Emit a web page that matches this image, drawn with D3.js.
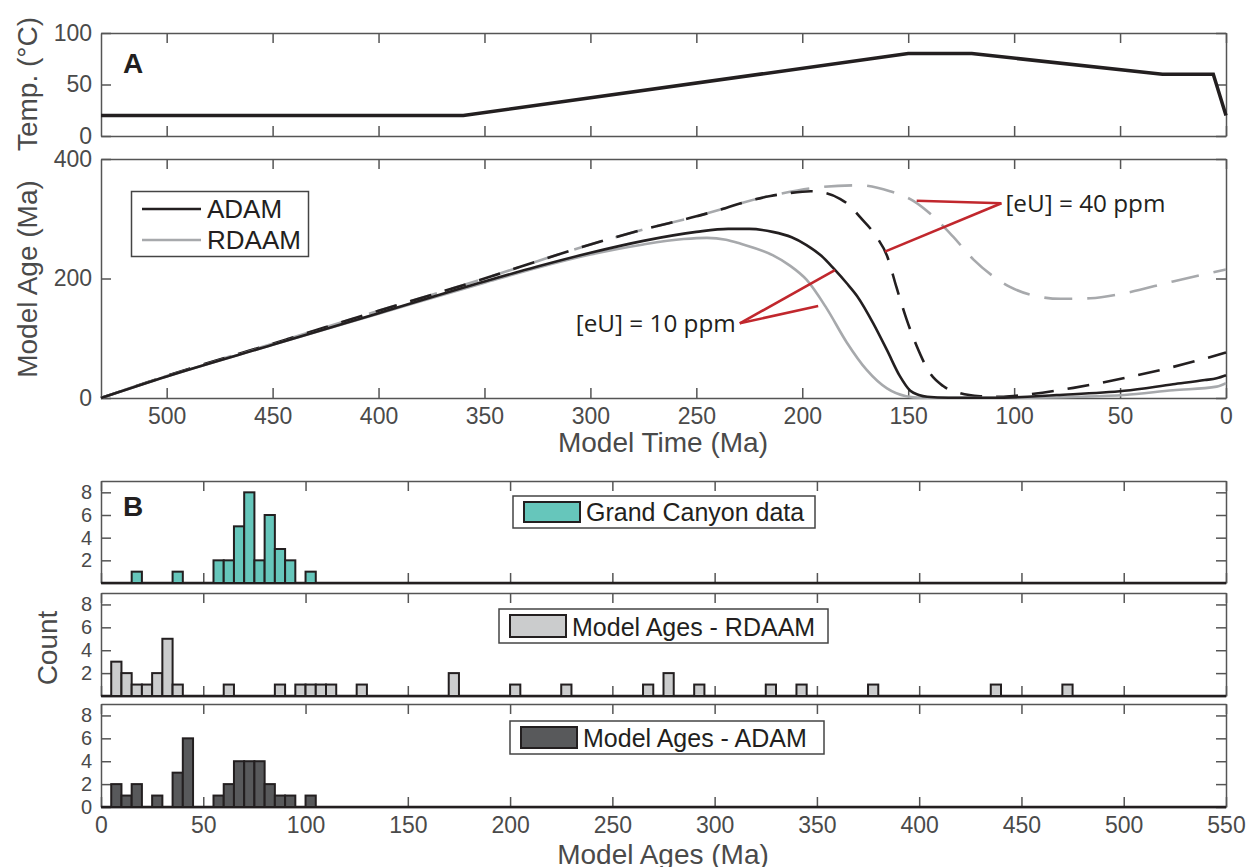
<!DOCTYPE html>
<html lang="en">
<head>
<meta charset="UTF-8">
<title>Model ages vs time</title>
<script src="https://d3js.org/d3.v7.min.js"></script>
<style>
  body { margin: 0; background: #fff; }
  svg { font-family: "Liberation Sans", Arial, sans-serif; }
  .axis path, .axis line { stroke: #555; stroke-width: 1.5; }
  .axis text { fill: #4a4a4a; font-size: 23px; font-family: "Liberation Sans", Arial, sans-serif; }
  .hist .yaxis text { font-size: 20px; }
  .title { fill: #4a4a4a; font-size: 28px; }
</style>
</head>
<body>
<svg id="chart" width="1249" height="867"></svg>
<script>
// ---- data ----
// temperature path (panel A, top)
const tempTime = [531, 360, 150, 120, 30, 6, 0];
const tempC    = [20, 20, 80, 80, 60, 60, 20];

// model age curves (panel A, bottom); time in Ma, age in Ma
const adam10Time = [531, 500, 450, 400, 350, 325, 300, 275, 250, 235, 225, 214, 205, 198, 191, 185, 179, 174, 166.5, 160, 154, 149, 145, 141, 131, 110, 80, 48, 25, 10, 4.4, 0];
const adam10Age  = [0, 36, 89, 142, 195, 220, 243, 263, 278, 283, 283, 278, 269, 256, 238, 216, 192, 170, 125, 80, 37, 12, 5, 2, 0.5, 0.3, 5, 12, 23, 30, 33, 38];

const rdaam10Time = [531, 500, 450, 400, 350, 325, 300, 275, 256, 245, 236, 229, 214, 206, 198, 188.5, 179, 169.6, 160, 151, 144, 100, 70, 48, 25, 4.4, 0];
const rdaam10Age  = [0, 36, 89, 141, 193, 218, 240, 257, 266, 268, 265, 258, 239, 222, 198, 150, 93, 47, 16, 3, 0.5, 0.3, 2, 5, 13, 19, 25];

const adam40Time = [531, 500, 450, 400, 350, 325, 300, 275, 250, 236, 229, 215, 206, 196, 189, 182, 177, 172.8, 165, 160, 155.5, 150.8, 146, 139.8, 133.5, 125.6, 116, 105, 95.7, 72, 48.5, 25, 0];
const adam40Age  = [0, 37, 91, 146, 200, 229, 257, 282, 304, 318, 326, 338, 343, 346, 343, 333, 320, 303, 270, 238, 185, 132, 87, 42, 20, 8, 3, 2, 5, 17, 33, 52, 76];

const rdaam40Time = [531, 500, 450, 400, 350, 325, 300, 275, 250, 236, 229, 210, 191, 173, 158.6, 147.6, 138.2, 128.8, 119.3, 110, 102, 92.5, 78, 64, 48.5, 25, 0];
const rdaam40Age  = [0, 37, 91, 146, 200, 229, 257, 282, 304, 318, 326, 342, 353, 356, 346, 330, 304, 270, 232, 204, 186, 173, 166, 167, 175, 195, 215];

const timeTicks = [500, 450, 400, 350, 300, 250, 200, 150, 100, 50, 0];

// annotations: [time, age] points
const eu40Label = [106, 326];
const eu40Targets = [[146, 330], [161, 245]];
const eu10Label = [229.5, 125];
const eu10Targets = [[184.6, 214], [192.5, 154]];

// histograms (panel B): 5 Ma bins, start of bin and count
const binWidth = 5;
const canyonBins   = [15, 35, 55, 60, 65, 70, 75, 80, 85, 90, 100];
const canyonCounts = [1, 1, 2, 2, 5, 8, 2, 6, 3, 2, 1];
const rdaamBins   = [5, 10, 15, 20, 25, 30, 35, 60, 85, 95, 100, 105, 110, 125, 170, 200, 225, 265, 275, 290, 325, 340, 375, 435, 470];
const rdaamCounts = [3, 2, 1, 1, 2, 5, 1, 1, 1, 1, 1, 1, 1, 1, 2, 1, 1, 1, 2, 1, 1, 1, 1, 1, 1];
const adamBins   = [5, 10, 15, 25, 35, 40, 55, 60, 65, 70, 75, 80, 85, 90, 100];
const adamCounts = [2, 1, 2, 1, 3, 6, 1, 2, 4, 4, 4, 2, 1, 1, 1];
const ageTicks = [0, 50, 100, 150, 200, 250, 300, 350, 400, 450, 500, 550];

// ---- layout ----
const svg = d3.select("#chart");
const left = 101, right = 1226;
const tickLen = 10;
const black = "#231f20", gray = "#a7a9ac", red = "#c1272d";

const xTime = d3.scaleLinear().domain([531, 0]).range([left, right]);
const yTemp = d3.scaleLinear().domain([0, 100]).range([136, 33]);
const yAge = d3.scaleLinear().domain([0, 400]).range([398, 159]);

// draws a MATLAB-like box: inward ticks on all four sides
function box(x, y, xt, yt, showX, showY, cls) {
  const g = svg.append("g").attr("class", cls || "");
  const [y0, y1] = y.range();
  g.append("g").attr("class", "axis").attr("transform", `translate(0,${y0})`)
    .call(d3.axisBottom(x).tickValues(xt).tickSizeInner(-tickLen).tickSizeOuter(0).tickPadding(10)
      .tickFormat(showX ? d3.format("d") : ""));
  g.append("g").attr("class", "axis").attr("transform", `translate(0,${y1})`)
    .call(d3.axisTop(x).tickValues(xt).tickSizeInner(-tickLen).tickSizeOuter(0).tickFormat(""));
  g.append("g").attr("class", "axis yaxis").attr("transform", `translate(${left},0)`)
    .call(d3.axisLeft(y).tickValues(yt).tickSizeInner(-tickLen).tickSizeOuter(0).tickPadding(9)
      .tickFormat(showY ? d3.format("d") : ""));
  g.append("g").attr("class", "axis").attr("transform", `translate(${right},0)`)
    .call(d3.axisRight(y).tickValues(yt).tickSizeInner(-tickLen).tickSizeOuter(0).tickFormat(""));
  return g;
}

// ---- panel A top: temperature ----
box(xTime, yTemp, timeTicks, [0, 50, 100], false, true);
svg.append("path")
  .datum(d3.zip(tempTime, tempC))
  .attr("fill", "none").attr("stroke", black).attr("stroke-width", 3.5)
  .attr("d", d3.line().x(d => xTime(d[0])).y(d => yTemp(d[1])));

svg.append("text").attr("x", 123).attr("y", 73)
  .attr("font-size", 28).attr("font-weight", "bold").attr("fill", black).text("A");
svg.append("text").attr("class", "title")
  .attr("transform", "translate(37,84) rotate(-90)").attr("text-anchor", "middle")
  .text("Temp. (°C)");

// ---- panel A bottom: model age ----
box(xTime, yAge, timeTicks, [0, 200, 400], true, true);

const ageLine = d3.line().x(d => xTime(d[0])).y(d => yAge(d[1])).curve(d3.curveMonotoneX);
function curve(t, a, color, dash, offset) {
  svg.append("path")
    .datum(d3.zip(t, a))
    .attr("fill", "none").attr("stroke", color).attr("stroke-width", 2.6)
    .attr("stroke-dasharray", dash).attr("stroke-dashoffset", offset || 0)
    .attr("d", ageLine);
}
curve(rdaam40Time, rdaam40Age, gray, "28,15", 20);
curve(adam40Time, adam40Age, black, "22,14", 0);
curve(rdaam10Time, rdaam10Age, gray, null);
curve(adam10Time, adam10Age, black, null);

// annotations
function annotate(from, targets, label, anchor, dx) {
  targets.forEach(t => {
    svg.append("line")
      .attr("x1", xTime(from[0])).attr("y1", yAge(from[1]))
      .attr("x2", xTime(t[0])).attr("y2", yAge(t[1]))
      .attr("stroke", red).attr("stroke-width", 2.6);
  });
  svg.append("text")
    .attr("x", xTime(from[0]) + dx).attr("y", yAge(from[1]) + 9)
    .attr("text-anchor", anchor)
    .attr("font-family", "'Open Sans', sans-serif").attr("font-size", 23)
    .attr("textLength", 160).attr("lengthAdjust", "spacingAndGlyphs")
    .attr("fill", black).text(label);
}
annotate(eu40Label, eu40Targets, "[eU] = 40 ppm", "start", 4);
annotate(eu10Label, eu10Targets, "[eU] = 10 ppm", "end", -4);

// legend
const lg = svg.append("g");
lg.append("rect").attr("x", 131.5).attr("y", 191.5).attr("width", 177).attr("height", 65)
  .attr("fill", "#fff").attr("stroke", "#444").attr("stroke-width", 1.5);
[["ADAM", black, 209, 218], ["RDAAM", gray, 240, 249]].forEach(([name, c, ly, ty]) => {
  lg.append("line").attr("x1", 142).attr("x2", 201).attr("y1", ly).attr("y2", ly)
    .attr("stroke", c).attr("stroke-width", 2.6);
  lg.append("text").attr("x", 207).attr("y", ty).attr("font-size", 26).attr("fill", black).text(name);
});

svg.append("text").attr("class", "title").attr("x", 663).attr("y", 452)
  .attr("text-anchor", "middle").text("Model Time (Ma)");
svg.append("text").attr("class", "title")
  .attr("transform", "translate(37,279) rotate(-90)").attr("text-anchor", "middle")
  .text("Model Age (Ma)");

// ---- panel B: histograms ----
const xAge = d3.scaleLinear().domain([0, 550]).range([left, right]);
const hists = [
  { bins: canyonBins, counts: canyonCounts, fill: "#66c6bb", top: 481, bottom: 583,
    label: "Grand Canyon data", lx: 513, ly: 496, lw: 302, lh: 32, zero: false, xlab: false },
  { bins: rdaamBins, counts: rdaamCounts, fill: "#cbcccd", top: 593, bottom: 696,
    label: "Model Ages - RDAAM", lx: 499, ly: 609, lw: 329, lh: 34, zero: false, xlab: false },
  { bins: adamBins, counts: adamCounts, fill: "#58595b", top: 704, bottom: 807,
    label: "Model Ages - ADAM", lx: 510, ly: 721, lw: 314, lh: 33, zero: true, xlab: true }
];

hists.forEach(h => {
  const y = d3.scaleLinear().domain([0, 9]).range([h.bottom, h.top]);
  const yt = h.zero ? [0, 2, 4, 6, 8] : [2, 4, 6, 8];
  box(xAge, y, ageTicks, yt, h.xlab, true, "hist");
  // zero-height baseline of the empty bins
  svg.append("line").attr("x1", xAge(0)).attr("x2", xAge(550))
    .attr("y1", y(0)).attr("y2", y(0)).attr("stroke", black).attr("stroke-width", 2.5);
  svg.append("g").selectAll("rect")
    .data(d3.zip(h.bins, h.counts))
    .join("rect")
    .attr("x", d => xAge(d[0]))
    .attr("width", d => xAge(d[0] + binWidth) - xAge(d[0]))
    .attr("y", d => y(d[1]))
    .attr("height", d => y(0) - y(d[1]))
    .attr("fill", h.fill).attr("stroke", black).attr("stroke-width", 2);
  // legend
  const g = svg.append("g");
  g.append("rect").attr("x", h.lx).attr("y", h.ly).attr("width", h.lw).attr("height", h.lh)
    .attr("fill", "#fff").attr("stroke", "#444").attr("stroke-width", 1.5);
  g.append("rect").attr("x", h.lx + 11).attr("y", h.ly + 6).attr("width", 56).attr("height", h.lh - 12)
    .attr("fill", h.fill).attr("stroke", black).attr("stroke-width", 2);
  g.append("text").attr("x", h.lx + 73).attr("y", h.ly + h.lh - 7)
    .attr("font-size", 25).attr("fill", black).text(h.label);
});

svg.append("text").attr("x", 123).attr("y", 516)
  .attr("font-size", 28).attr("font-weight", "bold").attr("fill", black).text("B");
svg.append("text").attr("class", "title")
  .attr("transform", "translate(57,648) rotate(-90)").attr("text-anchor", "middle")
  .text("Count");
svg.append("text").attr("class", "title").attr("x", 663).attr("y", 864)
  .attr("text-anchor", "middle").text("Model Ages (Ma)");
</script>
</body>
</html>
